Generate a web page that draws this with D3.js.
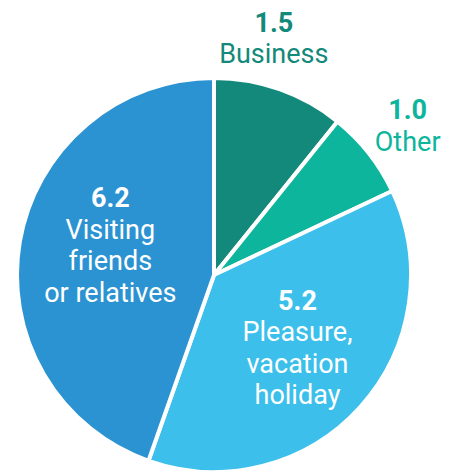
<!DOCTYPE html>
<html>
<head>
<meta charset="utf-8">
<script src="https://cdn.jsdelivr.net/npm/d3@7"></script>
<style>
body { margin: 0; background: #fff; }
svg { display: block; font-family: Roboto, "Noto Sans", sans-serif; }
</style>
</head>
<body>
<script>
var width = 454, height = 475;

// data
var categories = ["Business", "Other", "Pleasure, vacation holiday", "Visiting friends or relatives"];
var values = [1.5, 1.0, 5.2, 6.2];
var colors = ["#12897a", "#0db59c", "#3cbfeb", "#2b93d1"];
// label lines per slice
var labelLines = [["Business"], ["Other"], ["Pleasure,", "vacation", "holiday"], ["Visiting", "friends", "or relatives"]];

var cx = 214, cy = 275, r = 197;

var svg = d3.select("body").append("svg").attr("width", width).attr("height", height);
var g = svg.append("g").attr("transform", "translate(" + cx + "," + cy + ")");

var pie = d3.pie().sort(null).value(function(d){ return d; });
var arcs = pie(values);
var arc = d3.arc().innerRadius(0).outerRadius(r);

g.selectAll(".slice").data(arcs).enter().append("path").attr("class", "slice")
	.attr("d", arc)
	.attr("fill", function(d, i){ return colors[i]; })
	.attr("stroke", "#fff").attr("stroke-width", 4).attr("stroke-linejoin", "round");

// label positions (outside for the two small slices, inside for the big ones)
var labelArc = [
	d3.arc().innerRadius(r + 40).outerRadius(r + 40),
	d3.arc().innerRadius(r + 10).outerRadius(r + 10),
	d3.arc().innerRadius(r * 0.53).outerRadius(r * 0.53),
	d3.arc().innerRadius(r * 0.57).outerRadius(r * 0.57)
];
var offsets = [[-19, -20], [31, -28], [6, -35], [7, -49]];
var textColor = ["#12897a", "#0db59c", "#fff", "#fff"];

var lh = 31.5;
arcs.forEach(function(d, i){
	var p = labelArc[i].centroid(d);
	var x = p[0] + offsets[i][0], y = p[1] + offsets[i][1];
	var t = g.append("text").attr("text-anchor", "middle").attr("fill", textColor[i])
		.attr("x", x).attr("y", y).style("font-size", "27px");
	t.append("tspan").attr("x", x).attr("dy", 0).style("font-weight", "bold").text(d3.format(".1f")(values[i]));
	labelLines[i].forEach(function(s){
		t.append("tspan").attr("x", x).attr("dy", lh).text(s);
	});
});
</script>
</body>
</html>
